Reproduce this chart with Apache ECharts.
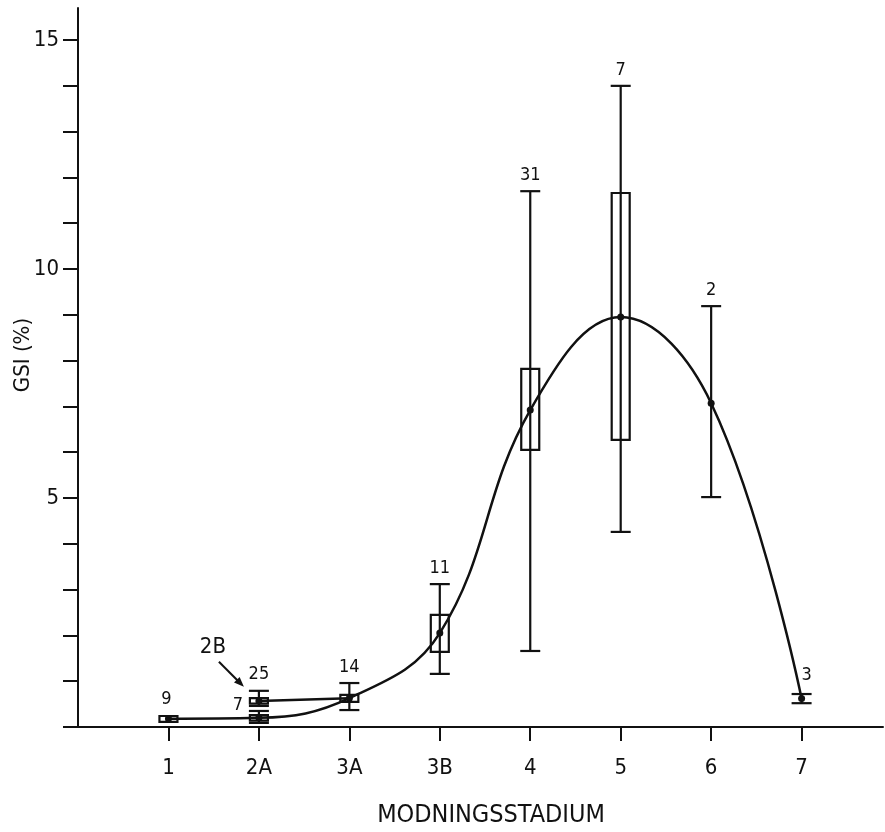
<!DOCTYPE html>
<html>
<head>
<meta charset="utf-8">
<script src="https://cdn.jsdelivr.net/npm/echarts@6/dist/echarts.min.js"></script>
<style>
  html, body { margin: 0; padding: 0; background: #fff; }
  #chart { width: 885px; height: 832px; }
</style>
</head>
<body>
<div id="chart"></div>
<script>
// stage names on the x axis
const stages = ["1", "2A", "3A", "3B", "4", "5", "6", "7"];

// one entry per box / whisker group
const groups = ["1", "2A", "2B", "3A", "3B", "4", "5", "6", "7"];
const groupX = [1, 2, 2, 3, 4, 5, 6, 7, 8];
const counts = [9, 7, 25, 14, 11, 31, 7, 2, 3];
const means = [0.18, 0.2, 0.57, 0.63, 2.05, 6.92, 8.95, 7.07, 0.62];
const boxLow = [0.11, 0.14, 0.51, 0.55, 1.64, 6.05, 6.27, null, null];
const boxHigh = [0.24, 0.26, 0.63, 0.7, 2.45, 7.82, 11.66, null, null];
const whiskLow = [null, 0.09, 0.46, 0.37, 1.16, 1.66, 4.26, 5.02, 0.52];
const whiskHigh = [null, 0.35, 0.79, 0.96, 3.12, 11.7, 14.0, 9.19, 0.72];

// the fitted curve goes through these groups; 2B joins 3A on its own
const curveGroups = ["1", "2A", "3A", "3B", "4", "5", "6", "7"];
const sideGroups = ["2B", "3A"];

const yTicks = [0, 1, 2, 3, 4, 5, 6, 7, 8, 9, 10, 11, 12, 13, 14, 15];
const yLabels = [5, 10, 15];

const ink = "#111";
const font = "'DejaVu Sans Condensed', 'DejaVu Sans', sans-serif";

// where the count label sits relative to the top of each group
const labelOffset = { "1": [-2, -17], "2A": [-21, -6], "7": [5, -19] };

const pt = (name) => {
  const i = groups.indexOf(name);
  return [groupX[i], means[i]];
};

function renderItem(params, api) {
  const i = params.dataIndex;
  const x = groupX[i];
  const kids = [];
  const capW = 20, boxW = 18;
  const lineStyle = { stroke: ink, lineWidth: 2.2 };

  if (whiskLow[i] != null) {
    const a = api.coord([x, whiskLow[i]]);
    const b = api.coord([x, whiskHigh[i]]);
    kids.push({ type: "line", shape: { x1: a[0], y1: a[1], x2: b[0], y2: b[1] }, style: lineStyle });
    [a, b].forEach((p) => {
      kids.push({ type: "line", shape: { x1: p[0] - capW / 2, y1: p[1], x2: p[0] + capW / 2, y2: p[1] }, style: lineStyle });
    });
  }
  if (boxLow[i] != null) {
    const lo = api.coord([x, boxLow[i]]);
    const hi = api.coord([x, boxHigh[i]]);
    kids.push({
      type: "rect",
      shape: { x: lo[0] - boxW / 2, y: hi[1], width: boxW, height: Math.max(lo[1] - hi[1], 5) },
      style: { stroke: ink, lineWidth: 2.2, fill: "transparent" },
    });
  }
  const m = api.coord([x, means[i]]);
  kids.push({ type: "circle", shape: { cx: m[0], cy: m[1], r: 3.5 }, style: { fill: ink } });

  const topVal = whiskHigh[i] != null ? whiskHigh[i] : boxHigh[i];
  const top = api.coord([x, topVal]);
  const off = labelOffset[groups[i]] || [0, -16];
  kids.push({
    type: "text",
    x: top[0] + off[0],
    y: top[1] + off[1],
    style: { text: String(counts[i]), fill: ink, font: "18px " + font, align: "center", verticalAlign: "middle" },
  });

  if (groups[i] === "2B") {
    const sx = top[0] - 40, sy = top[1] - 29;
    const ex = top[0] - 15, ey = top[1] - 4;
    const ang = Math.atan2(ey - sy, ex - sx);
    const h = 10, w = 4;
    kids.push({ type: "line", shape: { x1: sx, y1: sy, x2: ex - Math.cos(ang) * 4, y2: ey - Math.sin(ang) * 4 }, style: { stroke: ink, lineWidth: 2 } });
    kids.push({
      type: "polygon",
      shape: {
        points: [
          [ex, ey],
          [ex - h * Math.cos(ang) + w * Math.sin(ang), ey - h * Math.sin(ang) - w * Math.cos(ang)],
          [ex - h * Math.cos(ang) - w * Math.sin(ang), ey - h * Math.sin(ang) + w * Math.cos(ang)],
        ],
      },
      style: { fill: ink },
    });
    kids.push({
      type: "text",
      x: top[0] - 46,
      y: top[1] - 44,
      style: { text: "2B", fill: ink, font: "22px " + font, align: "center", verticalAlign: "middle" },
    });
  }
  return { type: "group", children: kids };
}

const chart = echarts.init(document.getElementById("chart"));
chart.setOption({
  backgroundColor: "#fff",
  animation: false,
  grid: { left: 78, right: 2, top: 8, bottom: 105 },
  xAxis: {
    type: "value",
    min: 0,
    max: 8.9,
    interval: 1,
    splitLine: { show: false },
    axisLine: { onZero: false, lineStyle: { color: ink, width: 2 } },
    axisTick: { show: true, inside: false, length: 14, lineStyle: { color: ink, width: 2 }, customValues: [1, 2, 3, 4, 5, 6, 7, 8] },
    axisLabel: {
      customValues: [1, 2, 3, 4, 5, 6, 7, 8],
      formatter: (v) => stages[Math.round(v) - 1] || "",
      margin: 30,
      color: ink,
      fontSize: 22,
      fontFamily: font,
    },
  },
  yAxis: {
    type: "value",
    min: 0,
    max: 15.7,
    interval: 1,
    splitLine: { show: false },
    axisLine: { show: true, lineStyle: { color: ink, width: 2 } },
    axisTick: { show: true, length: 15, lineStyle: { color: ink, width: 2 }, customValues: yTicks },
    axisLabel: { customValues: yLabels, margin: 19, color: ink, fontSize: 22, fontFamily: font },
  },
  graphic: [
    {
      type: "text",
      x: 23,
      y: 355,
      rotation: Math.PI / 2,
      style: { text: "GSI (%)", fill: ink, font: "22px " + font, align: "center", verticalAlign: "middle" },
    },
    {
      type: "text",
      x: 491,
      y: 815,
      style: { text: "MODNINGSSTADIUM", fill: ink, font: "25px " + font, align: "center", verticalAlign: "middle" },
    },
  ],
  series: [
    {
      type: "line",
      data: curveGroups.map(pt),
      smooth: 0.4,
      symbol: "none",
      lineStyle: { color: ink, width: 2.5 },
      z: 2,
    },
    {
      type: "line",
      data: sideGroups.map(pt),
      symbol: "none",
      lineStyle: { color: ink, width: 2.5 },
      z: 2,
    },
    {
      type: "custom",
      renderItem,
      data: groups.map((g, i) => [groupX[i], means[i]]),
      z: 3,
    },
  ],
});
</script>
</body>
</html>
